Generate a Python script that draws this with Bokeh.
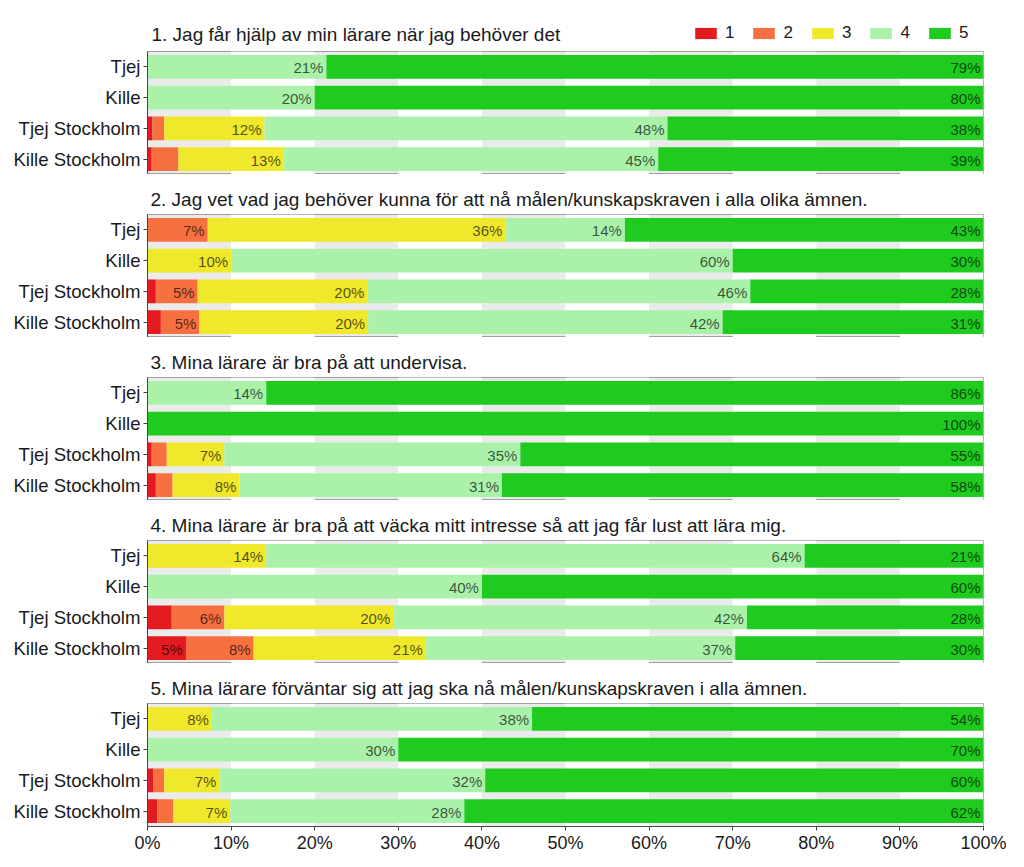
from bokeh.plotting import figure
from bokeh.models import (ColumnDataSource, Range1d, FactorRange, FixedTicker,
                          PrintfTickFormatter, Legend, LegendItem, Label)
from bokeh.layouts import column
from bokeh.embed import file_html
from bokeh.resources import INLINE
from bokeh.core.properties import value

groups = ["Tjej", "Kille", "Tjej Stockholm", "Kille Stockholm"]
levels = ["1", "2", "3", "4", "5"]
colors = ["#e31b20", "#f7703f", "#f0e82a", "#aaf2aa", "#1ecb1e"]
x_ticks = [0, 10, 20, 30, 40, 50, 60, 70, 80, 90, 100]

titles = [
    "1. Jag får hjälp av min lärare när jag behöver det",
    "2. Jag vet vad jag behöver kunna för att nå målen/kunskapskraven i alla olika ämnen.",
    "3. Mina lärare är bra på att undervisa.",
    "4. Mina lärare är bra på att väcka mitt intresse så att jag får lust att lära mig.",
    "5. Mina lärare förväntar sig att jag ska nå målen/kunskapskraven i alla ämnen.",
]

# rows: Tjej, Kille, Tjej Stockholm, Kille Stockholm ; columns: answer 1..5 (%)
q1 = [[0, 0, 0, 21.4, 78.6],
      [0, 0, 0, 20, 80],
      [0.6, 1.4, 12, 48.2, 37.8],
      [0.5, 3.2, 12.6, 44.8, 38.9]]
q2 = [[0, 7.2, 35.6, 14.3, 42.9],
      [0, 0, 10, 60, 30],
      [1, 5, 20.3, 45.8, 27.9],
      [1.6, 4.6, 20.2, 42.4, 31.2]]
q3 = [[0, 0, 0, 14.2, 85.8],
      [0, 0, 0, 0, 100],
      [0.5, 1.8, 6.9, 35.4, 55.4],
      [1, 2, 8, 31.4, 57.6]]
q4 = [[0, 0, 14.2, 64.4, 21.4],
      [0, 0, 0, 40, 60],
      [2.9, 6.3, 20.2, 42.3, 28.3],
      [4.6, 8.1, 20.6, 37, 29.7]]
q5 = [[0, 0, 7.7, 38.3, 54],
      [0, 0, 0, 30, 70],
      [0.7, 1.3, 6.6, 31.8, 59.6],
      [1.2, 1.9, 6.8, 28, 62.1]]
questions = [q1, q2, q3, q4, q5]

FONT = "Liberation Sans"
LEFT, FW, RIGHT = 147, 836, 33
xr = Range1d(0, 100)

# header row: first title + legend (frame aligned with the panels below)
header = figure(frame_width=FW, frame_height=51, min_border_left=LEFT,
                min_border_right=RIGHT, min_border_top=0, min_border_bottom=0,
                x_range=Range1d(0, 1), y_range=Range1d(0, 1),
                x_axis_location=None, y_axis_location=None,
                output_backend="svg", toolbar_location=None, tools="")
header.outline_line_color = None
header.xgrid.visible = False
header.ygrid.visible = False
dummy = [header.hbar(y=[0], left=[0], right=[0], height=0, color=c, line_color=None)
         for c in colors]
header.add_layout(Label(x=4, y=17, x_units="screen", y_units="screen",
                        text=titles[0], text_font=FONT, text_font_size="19px",
                        text_color="#1a1a1a", text_baseline="middle", text_align="left"))
legend = Legend(items=[LegendItem(label=lv, renderers=[r]) for lv, r in zip(levels, dummy)],
                orientation="horizontal", location=(545, 8),
                glyph_width=27, glyph_height=14, label_standoff=6, spacing=16,
                label_width=9, label_height=20,
                padding=0, margin=0, border_line_alpha=0, background_fill_alpha=0,
                label_text_font=FONT, label_text_font_size="17px", label_text_color="#1a1a1a")
header.add_layout(legend)

figs = [header]
for qi, (title, data) in enumerate(zip(titles, questions)):
    last = qi == len(questions) - 1
    p = figure(y_range=FactorRange(*groups[::-1], range_padding=0), x_range=xr,
               frame_width=FW, frame_height=123,
               min_border_left=LEFT, min_border_right=RIGHT,
               min_border_top=0 if qi == 0 else 40,
               min_border_bottom=30 if last else 0,
               output_backend="svg", toolbar_location=None, tools="")
    src = {"g": groups}
    for li, lv in enumerate(levels):
        src["v" + lv] = [row[li] for row in data]
    source = ColumnDataSource(src)
    p.hbar_stack(["v" + lv for lv in levels], y="g", height=0.78,
                 color=colors, line_color=None, source=source)
    # percentage labels
    lx, ly, lt = [], [], []
    for g, row in zip(groups, data):
        cum = 0
        for v in row:
            cum += v
            if v >= 4:
                lx.append(cum)
                ly.append(g)
                lt.append(f"{v:.0f}%")
    p.text(x=lx, y=ly, text=lt, text_align="right", text_baseline="middle",
           x_offset=-3, y_offset=1, text_font=value(FONT), text_font_size="15px",
           text_color="#000000", text_alpha=0.68)

    if qi > 0:
        p.title.text = title
        p.title.text_font = FONT
        p.title.text_font_size = "19px"
        p.title.text_font_style = "normal"
        p.title.text_color = "#1a1a1a"
        p.title.offset = 3

    p.xgrid.ticker = FixedTicker(ticks=x_ticks)
    p.xgrid.grid_line_color = None
    p.xgrid.band_fill_color = "white"
    p.xgrid.band_fill_alpha = 1
    p.ygrid.grid_line_color = None
    p.outline_line_color = "#a0a0a0"
    p.background_fill_color = "#ebebeb"

    p.yaxis.major_label_text_font = FONT
    p.yaxis.major_label_text_font_size = "18.6px"
    p.yaxis.major_label_text_color = "#1a1a1a"
    p.yaxis.axis_line_color = "#444444"
    p.yaxis.major_tick_line_color = "#444444"
    p.yaxis.major_tick_out = 4
    p.yaxis.major_tick_in = 0
    p.yaxis.major_label_standoff = 3

    if last:
        p.xaxis.ticker = FixedTicker(ticks=x_ticks)
        p.xaxis.formatter = PrintfTickFormatter(format="%d%%")
        p.xaxis.major_label_text_font = FONT
        p.xaxis.major_label_text_font_size = "18px"
        p.xaxis.major_label_text_color = "#1a1a1a"
        p.xaxis.axis_line_color = "#444444"
        p.xaxis.major_tick_line_color = "#444444"
        p.xaxis.major_tick_out = 4
        p.xaxis.major_tick_in = 0
        p.xaxis.minor_tick_line_color = None
        p.xaxis.major_label_standoff = 2
    else:
        p.xaxis.visible = False
    figs.append(p)

layout = column(*figs, spacing=0)
open("out.html", "w").write(file_html(layout, INLINE))
